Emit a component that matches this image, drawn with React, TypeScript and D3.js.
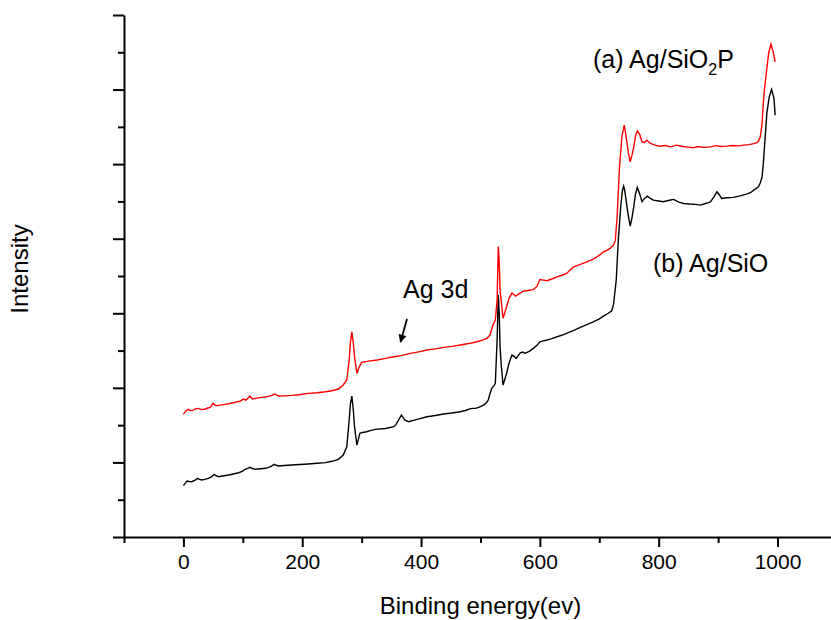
import React, { useRef, useEffect } from 'react';
import * as d3 from 'd3';

// binding energy (eV) vs intensity (a.u.)
const seriesA: [number, number][] = [
  [0, 1645], [4, 1690], [8, 1712], [12, 1695], [17, 1702], [21, 1720], [25, 1725], [31, 1708],
  [37, 1716], [41, 1730], [45, 1739], [50, 1792], [53, 1770], [56, 1760], [62, 1768], [70, 1779],
  [78, 1790], [87, 1806], [95, 1820], [101, 1850], [105, 1836], [109, 1865], [112, 1890], [116, 1850],
  [124, 1862], [132, 1873], [140, 1880], [149, 1899], [154, 1917], [160, 1890], [170, 1893], [182, 1899],
  [195, 1908], [210, 1926], [225, 1935], [239, 1948], [250, 1962], [261, 1984], [269, 2038], [275, 2105],
  [279, 2373], [281, 2600], [283.5, 2752], [286, 2600], [288, 2417], [292, 2194], [296, 2283], [300, 2342],
  [312, 2358], [326, 2373], [340, 2395], [354, 2417], [368, 2436], [382, 2462], [396, 2482], [410, 2507],
  [424, 2522], [438, 2543], [452, 2556], [466, 2574], [480, 2594], [494, 2618], [503, 2640], [511, 2664],
  [516, 2708], [521, 2842], [525, 2909], [528, 3177], [530, 3894], [531.5, 3700], [533, 3311], [538, 2932],
  [544, 3087], [548, 3200], [553, 3271], [559, 3231], [564, 3257], [572, 3298], [580, 3305], [589, 3318],
  [595, 3360], [600, 3452], [606, 3445], [612, 3436], [620, 3460], [629, 3489], [637, 3510], [645, 3535],
  [651, 3580], [657, 3623], [668, 3655], [679, 3690], [688, 3720], [696, 3757], [702, 3790], [707, 3825],
  [713, 3845], [718, 3870], [724, 3914], [727, 3981], [730, 4294], [734, 4964], [738, 5366], [742, 5523],
  [746, 5322], [749, 5150], [752, 5031], [755, 5120], [758, 5232], [761, 5380], [764, 5446], [768, 5400],
  [772, 5299], [776, 5290], [780, 5322], [786, 5277], [794, 5255], [802, 5241], [812, 5250], [820, 5232],
  [830, 5255], [840, 5236], [850, 5228], [858, 5219], [866, 5236], [875, 5225], [887, 5232], [897, 5248],
  [905, 5236], [915, 5241], [925, 5250], [935, 5245], [943, 5255], [952, 5262], [960, 5275], [965, 5288],
  [968, 5310], [971, 5366], [974, 5546], [976, 5814], [978, 6000], [981, 6216], [985, 6484], [989, 6609],
  [992, 6528], [994, 6460], [996, 6372],
];

const seriesB: [number, number][] = [
  [0, 688], [3, 720], [6, 751], [10, 745], [14, 741], [19, 760], [24, 787], [27, 772], [31, 764],
  [36, 772], [42, 787], [47, 805], [52, 840], [55, 822], [59, 808], [66, 818], [76, 831], [84, 845],
  [93, 862], [99, 880], [104, 908], [108, 920], [112, 934], [116, 918], [121, 908], [130, 915], [138, 921],
  [146, 940], [153, 975], [156, 962], [160, 952], [170, 958], [182, 965], [196, 972], [210, 979], [225, 988],
  [239, 997], [250, 1015], [261, 1042], [269, 1099], [275, 1210], [279, 1568], [281, 1780], [283.5, 1890],
  [286, 1700], [288, 1479], [292, 1233], [297, 1390], [302, 1402], [308, 1412], [316, 1430], [323, 1444],
  [340, 1455], [354, 1479], [358, 1510], [362, 1568], [367, 1635], [370, 1600], [373, 1568], [379, 1546],
  [395, 1580], [410, 1613], [424, 1630], [438, 1649], [452, 1662], [466, 1680], [476, 1700], [482, 1718],
  [486, 1725], [492, 1725], [498, 1742], [505, 1769], [510, 1800], [513, 1836], [516, 1920], [519, 1993],
  [523, 2030], [525, 2060], [528, 2641], [530, 3244], [531.5, 3000], [533, 2551], [535, 2300], [538, 2038],
  [544, 2194], [548, 2330], [553, 2440], [557, 2420], [560, 2395], [567, 2471], [571, 2480], [575, 2463],
  [582, 2490], [589, 2530], [595, 2570], [600, 2618], [606, 2630], [612, 2641], [620, 2660], [629, 2685],
  [640, 2715], [651, 2752], [660, 2780], [668, 2811], [680, 2850], [690, 2886], [700, 2925], [707, 2962],
  [715, 3000], [721, 3034], [724, 3123], [728.5, 3445], [732, 3981], [736, 4428], [739, 4650], [741, 4705],
  [743, 4640], [745, 4517], [749, 4300], [752, 4169], [755, 4280], [758, 4428], [761, 4600], [764, 4688],
  [768, 4600], [772, 4495], [776, 4540], [781, 4571], [786, 4540], [791, 4517], [800, 4505], [808, 4495],
  [816, 4512], [825, 4527], [834, 4490], [842, 4473], [852, 4465], [862, 4460], [870, 4451], [880, 4475],
  [887, 4495], [893, 4560], [898, 4629], [902, 4590], [906, 4540], [915, 4550], [926, 4554], [937, 4575],
  [948, 4598], [955, 4620], [960, 4652], [968, 4696], [971, 4750], [974, 4830], [976, 5000], [978, 5232],
  [980, 5450], [982, 5680], [986, 5902], [990, 6001], [994, 5881], [996, 5657],
];

const energyMajor = [0, 200, 400, 600, 800, 1000];
const energyMinor = [-100, 100, 300, 500, 700, 900];
const intensityMajor = [0, 1000, 2000, 3000, 4000, 5000, 6000, 7000];
const intensityMinor = [500, 1500, 2500, 3500, 4500, 5500, 6500];

const FONT = '"Liberation Sans", Arial, sans-serif';

function App() {
  const svgRef = useRef<SVGSVGElement>(null);

  useEffect(() => {
    const svg = d3.select(svgRef.current);
    svg.selectAll('*').remove();

    const x = d3.scaleLinear().domain([-100, 1090]).range([124, 831]);
    const y = d3.scaleLinear().domain([0, 7000]).range([537, 15]);

    const line = d3.line<[number, number]>()
      .x(d => x(d[0]))
      .y(d => y(d[1]));

    svg.append('path')
      .datum(seriesB)
      .attr('fill', 'none')
      .attr('stroke', '#000')
      .attr('stroke-width', 1.4)
      .attr('d', line);

    svg.append('path')
      .datum(seriesA)
      .attr('fill', 'none')
      .attr('stroke', '#ff0000')
      .attr('stroke-width', 1.4)
      .attr('d', line);

    // x axis
    const xMinor = svg.append('g')
      .attr('transform', 'translate(0,537)')
      .call(d3.axisBottom(x).tickValues(energyMinor).tickSize(6).tickSizeOuter(0).tickFormat(() => ''));
    xMinor.select('.domain').remove();

    const xMajor = svg.append('g')
      .attr('transform', 'translate(0,537)')
      .call(d3.axisBottom(x).tickValues(energyMajor).tickSize(10).tickSizeOuter(0).tickPadding(7)
        .tickFormat(d3.format('d')));
    xMajor.selectAll('text')
      .attr('font-family', FONT)
      .attr('font-size', 21)
      .attr('fill', '#000');

    // y axis
    const yMinor = svg.append('g')
      .attr('transform', 'translate(124,0)')
      .call(d3.axisLeft(y).tickValues(intensityMinor).tickSize(6).tickSizeOuter(0).tickFormat(() => ''));
    yMinor.select('.domain').remove();

    svg.append('g')
      .attr('transform', 'translate(124,0)')
      .call(d3.axisLeft(y).tickValues(intensityMajor).tickSize(11).tickSizeOuter(0).tickFormat(() => ''));

    svg.selectAll('.domain, .tick line')
      .attr('stroke', '#000')
      .attr('stroke-width', 2);

    // axis titles
    svg.append('text')
      .attr('x', x(500))
      .attr('y', 614)
      .attr('text-anchor', 'middle')
      .attr('font-family', FONT)
      .attr('font-size', 24)
      .text('Binding energy(ev)');

    svg.append('text')
      .attr('transform', 'translate(28,269) rotate(-90)')
      .attr('text-anchor', 'middle')
      .attr('font-family', FONT)
      .attr('font-size', 24)
      .text('Intensity');

    // annotations
    const a = svg.append('text')
      .attr('x', 593)
      .attr('y', 68)
      .attr('font-family', FONT)
      .attr('font-size', 25);
    a.append('tspan').text('(a) Ag/SiO');
    a.append('tspan').attr('font-size', 16).attr('dy', 7).text('2');
    a.append('tspan').attr('dy', -7).text('P');

    svg.append('text')
      .attr('x', 653)
      .attr('y', 272)
      .attr('font-family', FONT)
      .attr('font-size', 25)
      .text('(b) Ag/SiO');

    svg.append('text')
      .attr('x', 403)
      .attr('y', 298)
      .attr('font-family', FONT)
      .attr('font-size', 25)
      .text('Ag 3d');

    // arrow pointing at the Ag 3d region
    const defs = svg.append('defs');
    defs.append('marker')
      .attr('id', 'arrowHead')
      .attr('viewBox', '0 0 10 10')
      .attr('refX', 9)
      .attr('refY', 5)
      .attr('markerWidth', 10)
      .attr('markerHeight', 8)
      .attr('markerUnits', 'userSpaceOnUse')
      .attr('orient', 'auto')
      .append('path')
      .attr('d', 'M0,0 L10,5 L0,10 Z')
      .attr('fill', '#000');

    svg.append('line')
      .attr('x1', 407)
      .attr('y1', 319)
      .attr('x2', 400.5)
      .attr('y2', 342)
      .attr('stroke', '#000')
      .attr('stroke-width', 1.8)
      .attr('marker-end', 'url(#arrowHead)');
  }, []);

  return (
    <svg
      ref={svgRef}
      width={831}
      height={620}
      style={{ position: 'absolute', left: 0, top: 0, background: '#fff' }}
    />
  );
}

export default App;
